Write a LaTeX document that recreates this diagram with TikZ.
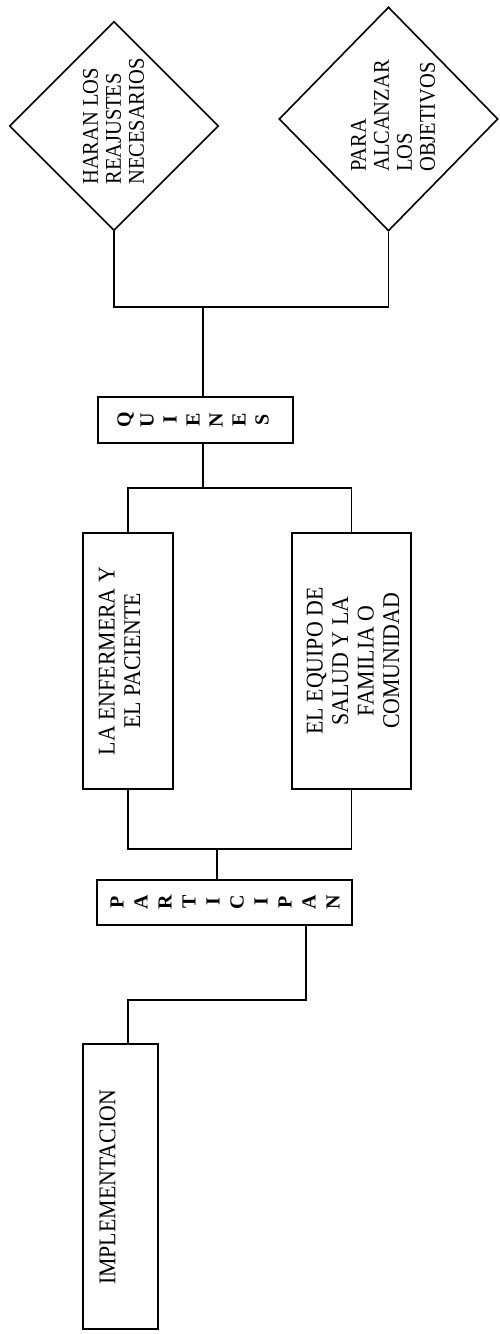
\documentclass[tikz,border=0pt]{standalone}
\usepackage{fontspec}
\setmainfont{Liberation Serif}
\newfontfamily\narrowserif[FakeStretch=0.91]{Liberation Serif}
\usetikzlibrary{shapes.geometric,calc}

\tikzset{
  link/.style={draw=black, line width=1.6pt},
  box/.style={draw=black, line width=1.6pt, rectangle, inner sep=0pt, rotate=90},
  rhomb/.style={draw=black, line width=1.6pt, diamond, inner sep=0pt, rotate=90},
  boxtext/.style={rotate=90, align=center, inner sep=0pt, font=\narrowserif\fontsize{24}{25.5}\selectfont},
  rhombtext/.style={rotate=90, align=left, inner sep=0pt, font=\narrowserif\fontsize{22.5}{23}\selectfont},
  spaced/.style={rotate=90, align=center, inner sep=0pt, font=\bfseries\fontsize{20}{#1}\selectfont}
}

\begin{document}
\begin{tikzpicture}[x=1pt,y=1pt]
  \useasboundingbox (0,0) rectangle (499,-1334);

  % decisions at the top
  \node[rhomb, minimum width=209pt, minimum height=209pt] (d1) at (114,-126) {};
  \node[rhombtext] (d1t) at (113.5,-121.5) {HARAN LOS\\REAJUSTES\\NECESARIOS};
  \node[rhomb, minimum width=224pt, minimum height=219pt] (d2) at (388.5,-119) {};
  \node[rhombtext] (d2t) at (393,-116) {PARA\\ALCANZAR\\LOS\\OBJETIVOS};

  % QUIENES
  \node[box, minimum width=46pt, minimum height=195pt] (q) at (195.5,-420) {};
  \node[spaced=23pt] (qt) at (193,-420) {Q\\U\\I\\E\\N\\E\\S};

  % participants
  \node[box, minimum width=256pt, minimum height=90pt] (a) at (128,-661) {};
  \node[boxtext] (at) at (119.5,-661) {LA ENFERMERA Y\\EL PACIENTE};
  \node[box, minimum width=256pt, minimum height=119pt] (b) at (351.5,-661) {};
  \node[boxtext] (bt) at (353,-661) {EL EQUIPO DE\\SALUD Y LA\\FAMILIA O\\COMUNIDAD};

  % PARTICIPAN
  \node[box, minimum width=45pt, minimum height=255pt] (p) at (224.5,-902.5) {};
  \node[spaced=24pt] (pt) at (225,-902) {P\\A\\R\\T\\I\\C\\I\\P\\A\\N};

  % IMPLEMENTACION
  \node[box, minimum width=285pt, minimum height=75pt] (impl) at (120.5,-1186.5) {};
  \node[boxtext] (implt) at (107.5,-1187.5) {IMPLEMENTACION};

  % junctions
  \coordinate (j1) at (203,-307);
  \coordinate (j2) at (203,-488);
  \coordinate (j3) at (217,-849);
  \coordinate (j4) at (306,-1000);
  \coordinate (j5) at (128,-1000);

  % connectors
  \draw[link] (d1.west) |- (j1) -| (d2.west);
  \draw[link] (j1) -- (j1 |- q.east);
  \draw[link] (j1 |- q.west) -- (j2);
  \draw[link] (a.east) |- (j2) -| (b.east);
  \draw[link] (a.west) |- (j3) -| (b.west);
  \draw[link] (j3) -- (j3 |- p.east);
  \draw[link] (j4 |- p.west) -- (j4) -- (j5) -- (j5 |- impl.east);
\end{tikzpicture}
\end{document}
